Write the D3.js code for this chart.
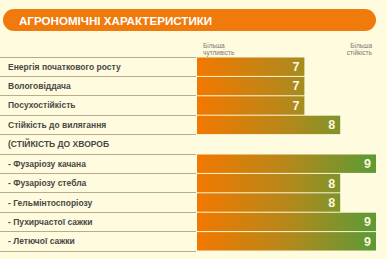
<!DOCTYPE html>
<html>
<head>
<meta charset="utf-8">
<script src="https://cdn.jsdelivr.net/npm/d3@7"></script>
<style>
  body { margin: 0; background: #fefbdf; }
  svg { display: block; }
</style>
</head>
<body>
<svg width="387" height="259"></svg>
<script>
const title = 'АГРОНОМІЧНІ ХАРАКТЕРИСТИКИ';
const leftNote = ['Більша', 'чутливість'];
const rightNote = ['Більша', 'стійкість'];

const categories = [
  'Енергія початкового росту',
  'Вологовіддача',
  'Посухостійкість',
  'Стійкість до вилягання',
  '(СТІЙКІСТЬ ДО ХВОРОБ',
  '- Фузаріозу качана',
  '- Фузаріозу стебла',
  '- Гельмінтоспоріозу',
  '- Пухирчастої сажки',
  '- Летючої сажки'
];
const values = [7, 7, 7, 8, null, 9, 8, 8, 9, 9];

const svg = d3.select('svg');
const labelFont = '"Liberation Sans", Arial, sans-serif';

const x = d3.scaleLinear().domain([4, 9]).range([197, 376]);
const y = d3.scaleBand().domain(d3.range(categories.length)).range([56.5, 251.5]).padding(0.05);

// shared gradient across the full scale
const grad = svg.append('defs').append('linearGradient')
  .attr('id', 'barGrad')
  .attr('gradientUnits', 'userSpaceOnUse')
  .attr('x1', x.range()[0]).attr('x2', x.range()[1])
  .attr('y1', 0).attr('y2', 0);
grad.append('stop').attr('offset', 0).attr('stop-color', '#f27800');
grad.append('stop').attr('offset', 0.5).attr('stop-color', '#b5881a');
grad.append('stop').attr('offset', 1).attr('stop-color', '#5a9b38');

// title pill
svg.append('rect')
  .attr('x', 3).attr('y', 9).attr('width', 373).attr('height', 22)
  .attr('rx', 11).attr('fill', '#f07a0c');
svg.append('text')
  .attr('x', 19).attr('y', 24.5)
  .attr('fill', '#fff')
  .attr('font-family', '"Liberation Sans", Arial, sans-serif')
  .attr('font-weight', 'bold')
  .attr('font-size', 11.6)
  .text(title);

// scale notes
const notes = svg.append('g')
  .attr('font-family', '"Liberation Sans", Arial, sans-serif')
  .attr('font-size', 6.5)
  .attr('fill', '#7a7a72');
notes.append('text').attr('x', 203).attr('y', 48)
  .selectAll('tspan').data(leftNote).join('tspan')
  .attr('x', 203).attr('dy', (d, i) => i ? 7 : 0).text(d => d);
notes.append('text').attr('x', 372).attr('y', 48).attr('text-anchor', 'end')
  .selectAll('tspan').data(rightNote).join('tspan')
  .attr('x', 372).attr('dy', (d, i) => i ? 7 : 0).text(d => d);

// row separators
const step = y.step();
svg.append('g').selectAll('line')
  .data(d3.range(categories.length + 1))
  .join('line')
  .attr('x1', 0).attr('x2', 196)
  .attr('y1', i => Math.round(y.range()[0] + i * step) + 0.5)
  .attr('y2', i => Math.round(y.range()[0] + i * step) + 0.5)
  .attr('stroke', '#b9ab8c')
  .attr('stroke-width', 1);

// labels
svg.append('g').selectAll('text')
  .data(categories)
  .join('text')
  .attr('x', 8)
  .attr('y', (d, i) => y(i) + y.bandwidth() / 2 + 3)
  .attr('font-family', labelFont)
  .attr('font-weight', 'bold')
  .attr('font-size', 8.5)
  .attr('fill', '#4a4844')
  .text(d => d);

// bars
const rows = values.map((v, i) => ({ v, i })).filter(d => d.v !== null);
svg.append('g').selectAll('rect')
  .data(rows)
  .join('rect')
  .attr('x', x(4))
  .attr('y', d => y(d.i))
  .attr('width', d => x(d.v) - x(4))
  .attr('height', y.bandwidth())
  .attr('fill', 'url(#barGrad)');

svg.append('g').selectAll('text')
  .data(rows)
  .join('text')
  .attr('x', d => x(d.v) - 5)
  .attr('y', d => y(d.i) + y.bandwidth() / 2 + 4.4)
  .attr('text-anchor', 'end')
  .attr('font-family', '"Liberation Sans", Arial, sans-serif')
  .attr('font-weight', 'bold')
  .attr('font-size', 12.5)
  .attr('fill', '#fdf6dc')
  .text(d => d.v);
</script>
</body>
</html>
